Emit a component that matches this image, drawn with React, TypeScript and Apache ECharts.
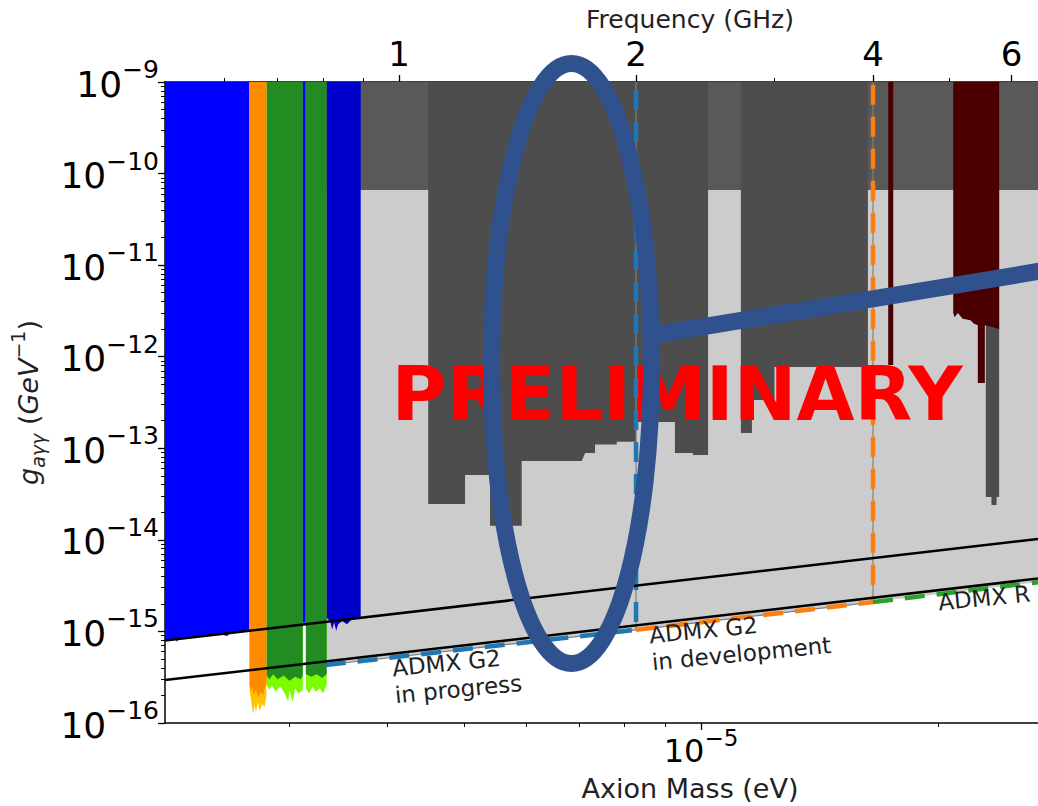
import React, { useEffect, useRef } from 'react';
import * as echarts from 'echarts';

// ---- axis ranges / conversions ----
const EV_PER_GHZ = 4.1357e-6;
const MASS_MIN = 2.085e-6;
const MASS_MAX = 2.68e-5;
const G_MIN = 1e-16;
const G_MAX = 1e-9;

// ---- tick values ----
const massMajorTicks = [1e-5];
const massMinorTicks = [3e-6, 4e-6, 5e-6, 6e-6, 7e-6, 8e-6, 9e-6, 2e-5];
const freqMajorTicks = [1, 2, 4, 6];
const freqMinorTicks = [0.6, 0.7, 0.8, 0.9, 3, 5];
const couplingMajorTicks = [1e-16, 1e-15, 1e-14, 1e-13, 1e-12, 1e-11, 1e-10, 1e-9];
const minorMultipliers = [2, 3, 4, 5, 6, 7, 8, 9];
const couplingMinorTicks: number[] = [];
couplingMajorTicks.slice(0, -1).forEach((d) => minorMultipliers.forEach((k) => couplingMinorTicks.push(d * k)));

// ---- model lines [mass eV, g GeV^-1] ----
const ksvzLine = [[2.085e-6, 7.96e-16], [2.68e-5, 1.023e-14]];
const dfszLine = [[2.085e-6, 2.94e-16], [2.68e-5, 3.78e-15]];

// ---- regions: lower boundary of each excluded region (filled up to the top) ----
const castLimit = [[3.34e-6, 6.6e-11], [2.68e-5, 6.6e-11]];
const projectionFloor = [[3.337e-6, 4.3e-16], [8.27e-6, 1.04e-15], [1.654e-5, 2.09e-15], [2.68e-5, 3.45e-15]];

const blueLimit = [[2.085e-6, 7.9e-16], [2.15e-6, 8.2e-16], [2.16e-6, 7.7e-16], [2.17e-6, 8.3e-16], [2.3e-6, 8.8e-16], [2.45e-6, 9.3e-16], [2.5e-6, 8.9e-16], [2.52e-6, 9.5e-16], [2.669e-6, 1.02e-15]];
const goldLimit = [[2.672e-6, 2.2e-16], [2.69e-6, 1.5e-16], [2.70e-6, 1.25e-16], [2.71e-6, 1.6e-16], [2.72e-6, 1.3e-16], [2.735e-6, 1.7e-16], [2.75e-6, 1.35e-16], [2.77e-6, 1.6e-16], [2.79e-6, 1.5e-16], [2.805e-6, 2.0e-16]];
const orangeLimit = [[2.669e-6, 2.6e-16], [2.68e-6, 2.2e-16], [2.69e-6, 2.5e-16], [2.70e-6, 2.0e-16], [2.72e-6, 2.3e-16], [2.74e-6, 1.9e-16], [2.76e-6, 2.2e-16], [2.78e-6, 2.0e-16], [2.79e-6, 2.4e-16], [2.808e-6, 2.7e-16]];
const lightGreenLimitA = [[2.808e-6, 2.6e-16], [2.83e-6, 2.3e-16], [2.85e-6, 2.6e-16], [2.88e-6, 2.2e-16], [2.92e-6, 2.5e-16], [2.96e-6, 2.1e-16], [2.99e-6, 1.7e-16], [3.0e-6, 2.3e-16], [3.03e-6, 1.7e-16], [3.05e-6, 2.4e-16], [3.08e-6, 2.1e-16], [3.12e-6, 2.3e-16]];
const greenLimitA = [[2.808e-6, 3.3e-16], [2.83e-6, 3.0e-16], [2.86e-6, 3.4e-16], [2.9e-6, 3.0e-16], [2.95e-6, 3.3e-16], [3.0e-6, 2.9e-16], [3.05e-6, 3.2e-16], [3.1e-6, 3.0e-16], [3.12e-6, 3.3e-16]];
const blueLineLimit = [[3.12e-6, 1.24e-15], [3.148e-6, 1.24e-15]];
const lightGreenLimitB = [[3.148e-6, 2.4e-16], [3.18e-6, 2.1e-16], [3.21e-6, 2.5e-16], [3.24e-6, 2.2e-16], [3.28e-6, 2.4e-16], [3.31e-6, 2.1e-16], [3.346e-6, 2.6e-16]];
const greenLimitB = [[3.148e-6, 3.4e-16], [3.2e-6, 3.2e-16], [3.25e-6, 3.4e-16], [3.3e-6, 3.1e-16], [3.346e-6, 3.4e-16]];
const mediumBlueLimit = [[3.346e-6, 1.4e-15], [3.38e-6, 1.3e-15], [3.40e-6, 1.05e-15], [3.42e-6, 1.25e-15], [3.44e-6, 1.02e-15], [3.46e-6, 1.2e-15], [3.5e-6, 1.3e-15], [3.55e-6, 1.2e-15], [3.6e-6, 1.35e-15], [3.696e-6, 1.4e-15]];

const darkRunA = [[4.503e-6, 2.47e-14], [5.015e-6, 2.47e-14], [5.015e-6, 5.1e-14], [5.395e-6, 5.1e-14], [5.395e-6, 1.43e-14], [5.919e-6, 1.43e-14], [5.919e-6, 7.26e-14], [7.056e-6, 7.26e-14], [7.125e-6, 8.87e-14], [7.335e-6, 8.87e-14], [7.335e-6, 1.1e-13], [7.815e-6, 1.1e-13], [7.815e-6, 1.18e-13], [8.27e-6, 1.18e-13]];
const darkRunB = [[8.27e-6, 1.94e-13], [9.266e-6, 1.94e-13], [9.266e-6, 8.87e-14], [9.768e-6, 8.87e-14], [9.768e-6, 8.45e-14], [1.0209e-5, 8.45e-14]];
const darkRunC = [[1.1238e-5, 1.47e-13], [1.1606e-5, 1.47e-13], [1.1606e-5, 3.36e-13], [1.24e-5, 3.36e-13], [1.24e-5, 7.73e-13], [1.6295e-5, 7.73e-13]];
const darkRunD = [[2.301e-5, 2.94e-14], [2.339e-5, 2.94e-14], [2.339e-5, 2.4e-14], [2.374e-5, 2.4e-14], [2.374e-5, 2.94e-14], [2.392e-5, 2.94e-14]];
const redNarrow = [[1.7292e-5, 8.12e-13], [1.7547e-5, 8.12e-13]];
const redWide = [[2.0915e-5, 3.0e-12], [2.1e-5, 2.7e-12], [2.12e-5, 3.0e-12], [2.15e-5, 2.6e-12], [2.2e-5, 2.5e-12], [2.22e-5, 2.3e-12], [2.2475e-5, 2.2e-12], [2.2475e-5, 5.16e-13], [2.294e-5, 5.16e-13], [2.294e-5, 2.2e-12], [2.35e-5, 2.1e-12], [2.392e-5, 2.0e-12]];

// ---- ADMX projections (dashed outlines) ----
const admxG2Progress = [[3.337e-6, 4.3e-16], [8.27e-6, 1.04e-15], [8.27e-6, 1e-9]];
const admxG2Development = [[8.27e-6, 1.04e-15], [1.654e-5, 2.09e-15], [1.654e-5, 1e-9]];
const admxRun = [[1.654e-5, 2.09e-15], [2.68e-5, 3.45e-15]];

const FONT = 'DejaVu Sans';

const fill = (name: string, data: number[][], color: string) => ({
  type: 'line', name, data, symbol: 'none', silent: true,
  lineStyle: { width: 0, opacity: 0 },
  areaStyle: { color, opacity: 1, origin: 'end' },
});
const curve = (name: string, data: number[][], color: string, width: number, type: any = 'solid') => ({
  type: 'line', name, data, symbol: 'none', silent: true,
  lineStyle: { color, width, type, cap: 'butt' },
});

const sciRich = (big: number, small: number, raise: number) => ({
  b: { fontFamily: FONT, fontSize: big, lineHeight: big + 4, color: '#000', verticalAlign: 'bottom' },
  s: { fontFamily: FONT, fontSize: small, lineHeight: small, color: '#000', verticalAlign: 'bottom', padding: [0, 0, raise, 0] },
});
const sciFormat = (v: number) => '{b|10}{s|−' + String(-Math.round(Math.log10(v))) + '}';

export default function App() {
  const ref = useRef<HTMLDivElement>(null);
  useEffect(() => {
    if (!ref.current) return;
    const chart = echarts.init(ref.current, undefined, { renderer: 'svg' });
    const spine = { show: true, lineStyle: { color: '#000', width: 1.5 } };
    chart.setOption({
      animation: false,
      backgroundColor: '#fff',
      grid: { left: 165, right: 0, top: 82, bottom: 83, containLabel: false, outerBoundsMode: 'none' },
      xAxis: [
        {
          type: 'log', position: 'bottom', min: MASS_MIN, max: MASS_MAX,
          axisLine: spine, splitLine: { show: false },
          axisTick: { customValues: massMajorTicks, length: 7, lineStyle: { color: '#000', width: 1.3 } },
          axisLabel: { customValues: massMajorTicks, formatter: sciFormat, margin: 8, rich: sciRich(32, 23, 18) },
          name: 'Axion Mass (eV)', nameLocation: 'middle', nameGap: 52,
          nameTextStyle: { fontFamily: FONT, fontSize: 27, color: '#222', padding: [0, 0, 0, 177] },
        },
        {
          type: 'log', position: 'bottom', min: MASS_MIN, max: MASS_MAX,
          axisLine: { show: false }, splitLine: { show: false }, axisLabel: { show: false },
          axisTick: { customValues: massMinorTicks, length: 4, lineStyle: { color: '#000', width: 1 } },
        },
        {
          type: 'log', position: 'top', min: MASS_MIN / EV_PER_GHZ, max: MASS_MAX / EV_PER_GHZ,
          axisLine: spine, splitLine: { show: false },
          axisTick: { customValues: freqMajorTicks, length: 7, lineStyle: { color: '#000', width: 1.3 } },
          axisLabel: { customValues: freqMajorTicks, fontFamily: FONT, fontSize: 34, color: '#000', margin: 11 },
          name: 'Frequency (GHz)', nameLocation: 'middle', nameGap: 47,
          nameTextStyle: { fontFamily: FONT, fontSize: 25, color: '#222', padding: [0, 0, 0, 177] },
        },
        {
          type: 'log', position: 'top', min: MASS_MIN / EV_PER_GHZ, max: MASS_MAX / EV_PER_GHZ,
          axisLine: { show: false }, splitLine: { show: false }, axisLabel: { show: false },
          axisTick: { customValues: freqMinorTicks, length: 4, lineStyle: { color: '#000', width: 1 } },
        },
      ],
      yAxis: [
        {
          type: 'log', position: 'left', min: G_MIN, max: G_MAX,
          axisLine: spine, splitLine: { show: false },
          axisTick: { customValues: couplingMajorTicks, length: 7, lineStyle: { color: '#000', width: 1.3 } },
          axisLabel: { customValues: couplingMajorTicks, formatter: sciFormat, margin: 6, rich: sciRich(36, 25, 20) },
          name: '{g|g}{sub|aγγ} {n|(}{g|GeV}{sup|−1}{n|)}', nameLocation: 'middle', nameGap: 118, nameRotate: 90,
          nameTextStyle: {
            fontFamily: FONT, fontSize: 27, color: '#222',
            rich: {
              g: { fontFamily: FONT, fontSize: 27, fontStyle: 'italic', color: '#222', lineHeight: 29, verticalAlign: 'bottom', padding: [0, 0, 5, 0] },
              n: { fontFamily: FONT, fontSize: 27, color: '#222', lineHeight: 29, verticalAlign: 'bottom', padding: [0, 0, 5, 0] },
              sub: { fontFamily: FONT, fontSize: 19, fontStyle: 'italic', color: '#222', lineHeight: 19, verticalAlign: 'bottom' },
              sup: { fontFamily: FONT, fontSize: 19, color: '#222', lineHeight: 19, verticalAlign: 'bottom', padding: [0, 0, 20, 0] },
            },
          },
        },
        {
          type: 'log', position: 'left', min: G_MIN, max: G_MAX,
          axisLine: { show: false }, splitLine: { show: false }, axisLabel: { show: false },
          axisTick: { customValues: couplingMinorTicks, length: 4, lineStyle: { color: '#000', width: 1 } },
        },
      ],
      series: [
        fill('Projected reach', projectionFloor, '#cccccc'),
        fill('CAST', castLimit, '#595959'),
        fill('Run A', darkRunA, '#4d4d4d'),
        fill('Run B', darkRunB, '#4d4d4d'),
        fill('Run C', darkRunC, '#4d4d4d'),
        fill('Run D', darkRunD, '#4d4d4d'),
        fill('Red narrow', redNarrow, '#4a0000'),
        fill('Red wide', redWide, '#4a0000'),
        fill('Blue', blueLimit, '#0000ff'),
        fill('Gold', goldLimit, '#ffc400'),
        fill('Orange', orangeLimit, '#ff8c00'),
        fill('Light green A', lightGreenLimitA, '#7cfc00'),
        fill('Green A', greenLimitA, '#228b22'),
        fill('Blue line', blueLineLimit, '#0000ff'),
        fill('Light green B', lightGreenLimitB, '#7cfc00'),
        fill('Green B', greenLimitB, '#228b22'),
        fill('Medium blue', mediumBlueLimit, '#0000cd'),
        curve('G2 edge', admxG2Progress, '#808080', 1.2),
        curve('Dev edge', admxG2Development, '#808080', 1.2),
        curve('ADMX G2 in progress', admxG2Progress, '#1f77b4', 4.5, [20, 12]),
        curve('ADMX G2 in development', admxG2Development, '#ff7f0e', 4.5, [20, 12]),
        curve('ADMX R', admxRun, '#2ca02c', 4.5, [20, 12]),
        curve('KSVZ', ksvzLine, '#000', 2.5),
        curve('DFSZ', dfszLine, '#000', 2.5),
      ],
      graphic: [
        {
          type: 'text', x: 677, y: 394, z: 100,
          style: { text: 'PRELIMINARY', fill: '#ff0000', fontFamily: FONT, fontWeight: 'bold', fontSize: 75, align: 'center', verticalAlign: 'middle' },
        },
        {
          type: 'text', x: 391, y: 655, rotation: 0.097, z: 90,
          style: { text: 'ADMX G2\nin progress', fill: '#222', fontFamily: FONT, fontSize: 23, lineHeight: 27, align: 'left', verticalAlign: 'top' },
        },
        {
          type: 'text', x: 648, y: 622, rotation: 0.097, z: 90,
          style: { text: 'ADMX G2\nin development', fill: '#222', fontFamily: FONT, fontSize: 23, lineHeight: 27, align: 'left', verticalAlign: 'top' },
        },
        {
          type: 'text', x: 937, y: 589, rotation: 0.097, z: 90,
          style: { text: 'ADMX R', fill: '#222', fontFamily: FONT, fontSize: 23, lineHeight: 27, align: 'left', verticalAlign: 'top' },
        },
        {
          type: 'ellipse', z: 110, shape: { cx: 571.5, cy: 363.5, rx: 80, ry: 300 },
          style: { fill: 'none', stroke: '#2f528f', lineWidth: 17 },
        },
        {
          type: 'line', z: 110, shape: { x1: 650, y1: 335.5, x2: 1050, y2: 269.5 },
          style: { stroke: '#2f528f', lineWidth: 17 },
        },
      ],
    });
    return () => chart.dispose();
  }, []);
  return <div ref={ref} style={{ position: 'fixed', left: 0, top: 0, width: 1038, height: 806 }} />;
}
